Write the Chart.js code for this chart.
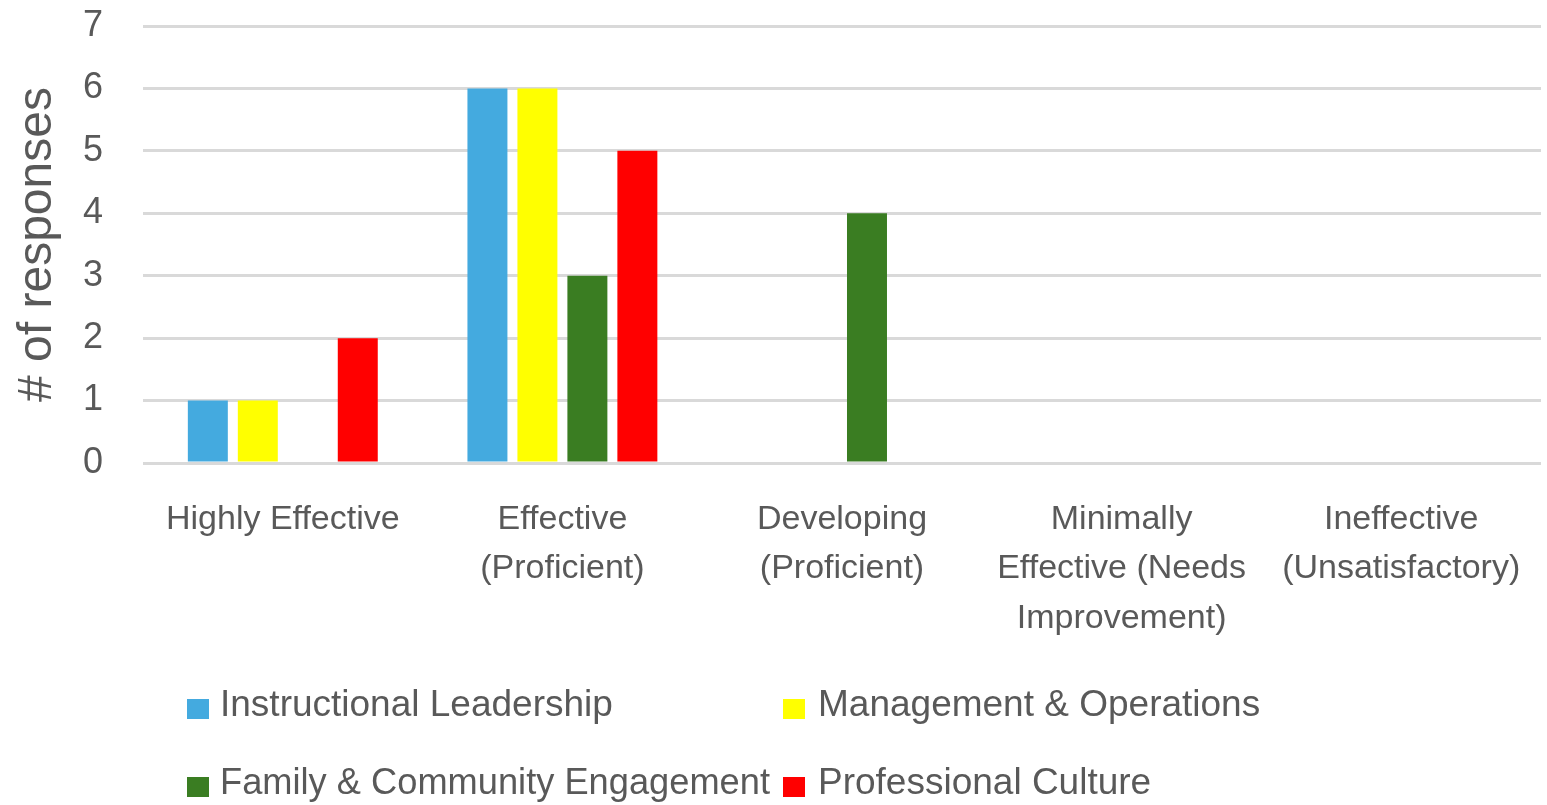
<!DOCTYPE html>
<html>
<head>
<meta charset="utf-8">
<title>Responses by rating</title>
<script src="https://cdn.jsdelivr.net/npm/chart.js@4/dist/chart.umd.min.js"></script>
<style>
  html, body { margin: 0; padding: 0; background: #fff; }
  canvas { display: block; }
</style>
</head>
<body>
<canvas id="chart" width="1547" height="805"></canvas>
<script>
var categories = [
  'Highly Effective',
  ['Effective', '(Proficient)'],
  ['Developing', '(Proficient)'],
  ['Minimally', 'Effective (Needs', 'Improvement)'],
  ['Ineffective', '(Unsatisfactory)']
];
var instructional = [1, 6, 0, 0, 0];
var management = [1, 6, 0, 0, 0];
var family = [0, 3, 4, 0, 0];
var culture = [2, 5, 0, 0, 0];
var yTicks = [0, 1, 2, 3, 4, 5, 6, 7];

var textColor = '#595959';
var fontFamily = '"Liberation Sans", Arial, sans-serif';

// legend in two fixed columns below the axis labels
var legendSlots = [
  { box: 187, text: 220, y: 706 },
  { box: 783, text: 818, y: 706 },
  { box: 187, text: 220, y: 784 },
  { box: 783, text: 818, y: 784 }
];
var legendTextWidth = 550;

var twoColumnLegend = {
  id: 'twoColumnLegend',
  afterDraw: function (chart) {
    var ctx = chart.ctx;
    ctx.save();
    ctx.font = '37px ' + fontFamily;
    ctx.textBaseline = 'middle';
    ctx.textAlign = 'left';
    chart.data.datasets.forEach(function (ds, i) {
      var s = legendSlots[i];
      ctx.fillStyle = ds.backgroundColor;
      ctx.fillRect(s.box, s.y - 7, 22, 20);
      ctx.fillStyle = textColor;
      ctx.fillText(ds.label, s.text, s.y, legendTextWidth);
    });
    ctx.restore();
  }
};

new Chart(document.getElementById('chart'), {
  type: 'bar',
  data: {
    labels: categories,
    datasets: [
      { label: 'Instructional Leadership', data: instructional, backgroundColor: '#44aadf' },
      { label: 'Management & Operations', data: management, backgroundColor: '#ffff00' },
      { label: 'Family & Community Engagement', data: family, backgroundColor: '#3a7d22' },
      { label: 'Professional Culture', data: culture, backgroundColor: '#ff0000' }
    ]
  },
  options: {
    responsive: false,
    animation: false,
    layout: { padding: { top: 26, right: 6, left: 0, bottom: 0 } },
    datasets: {
      bar: { barPercentage: 0.8, categoryPercentage: 0.715 }
    },
    plugins: {
      legend: { display: false },
      tooltip: { enabled: false }
    },
    scales: {
      x: {
        grid: { display: false },
        border: { display: false },
        ticks: {
          color: textColor,
          font: { family: fontFamily, size: 34, lineHeight: 1.45 },
          padding: 24,
          maxRotation: 0,
          autoSkip: false
        },
        afterFit: function (scale) { scale.height = 342; }
      },
      y: {
        min: 0,
        max: 7,
        afterBuildTicks: function (scale) {
          scale.ticks = yTicks.map(function (v) { return { value: v }; });
        },
        grid: { color: '#d9d9d9', lineWidth: 3, drawTicks: false },
        border: { display: false },
        ticks: {
          color: textColor,
          font: { family: fontFamily, size: 36 },
          padding: 40
        },
        title: {
          display: true,
          text: '# of responses',
          color: textColor,
          font: { family: fontFamily, size: 48 },
          padding: { top: 9, bottom: 0 }
        },
        afterFit: function (scale) {
          scale.width = 143;
          scale.paddingTop = 0;
          scale.paddingBottom = 0;
        }
      }
    }
  },
  plugins: [twoColumnLegend]
});
</script>
</body>
</html>
